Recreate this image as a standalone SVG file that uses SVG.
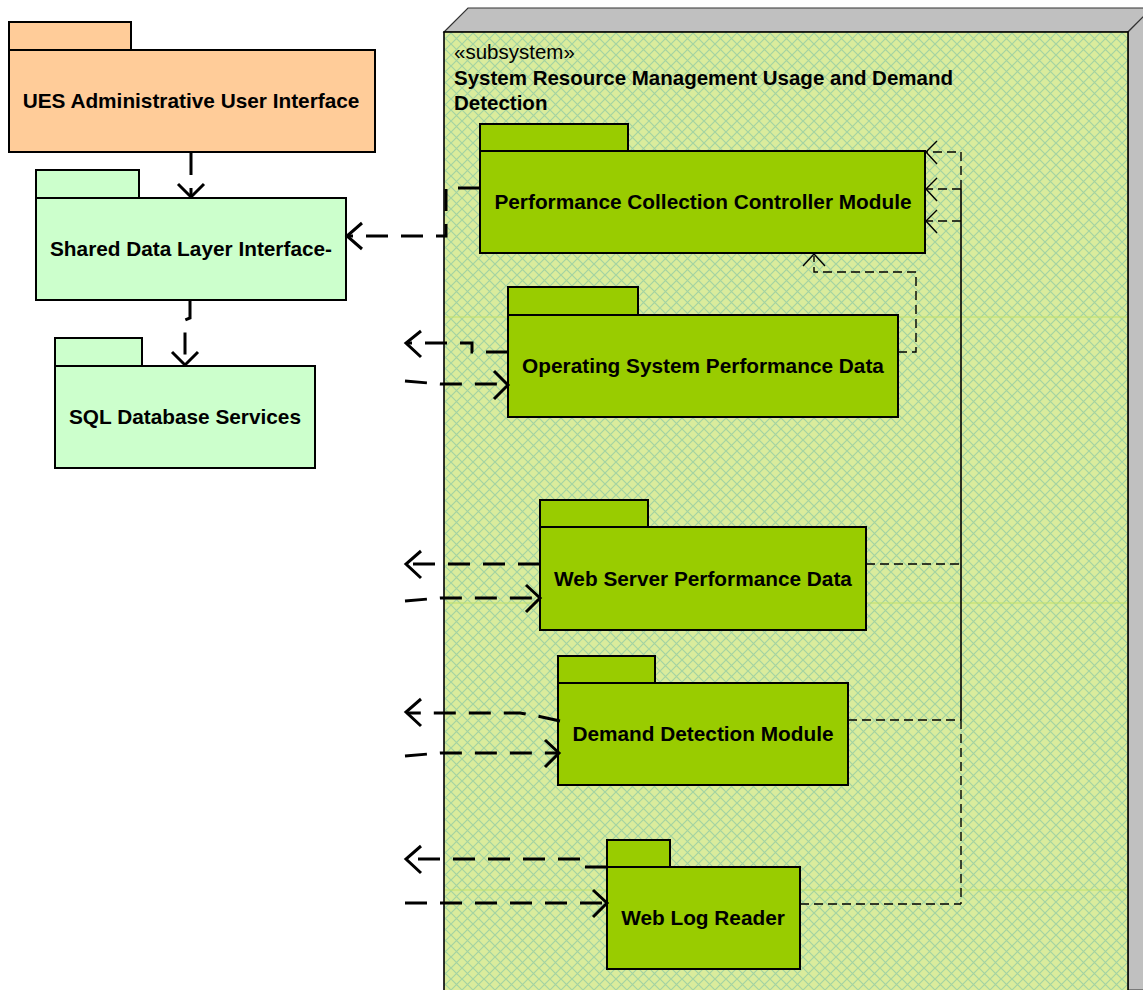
<svg xmlns="http://www.w3.org/2000/svg" width="1143" height="990" viewBox="0 0 1143 990">
  <style>
    .pkg { stroke: #000; stroke-width: 2; }
    .peach { fill: #FFCC99; }
    .mint { fill: #CCFFCC; }
    .lime { fill: #99CC00; }
    .lbl { font-family: "Liberation Sans", Arial, sans-serif; font-weight: bold; font-size: 20.8px; fill: #000; text-anchor: middle; }
    .hdr { font-family: "Liberation Sans", Arial, sans-serif; font-size: 20.5px; fill: #000; }
    .hdrb { font-weight: bold; }
    .dep { fill: none; stroke: #000; stroke-width: 3; stroke-dasharray: 22 13; }
    .dept { fill: none; stroke: #000; stroke-width: 1.4; stroke-dasharray: 9 5; }
    .solid { fill: none; stroke: #000; stroke-width: 1.6; }
    .head { fill: none; stroke: #000; stroke-width: 3; }
    .headt { fill: none; stroke: #000; stroke-width: 1.4; }
  </style>
  <defs>
    <pattern id="hatch" width="11" height="11" patternUnits="userSpaceOnUse">
      <rect width="11" height="11" fill="#DAEC9C"/>
      <path d="M0 0 L11 11 M11 0 L0 11" stroke="#A3D3A2" stroke-width="1.2"/>
    </pattern>
  </defs>

  <rect width="1143" height="990" fill="#fff"/>

  <!-- subsystem node (3D box) -->
  <g id="subsystem">
    <polygon points="444,32 468,8 1152,8 1128,32" fill="#C0C0C0" stroke="#333" stroke-width="1.2"/>
    <polygon points="1128,32 1152,8 1152,990 1128,990" fill="#C0C0C0" stroke="#333" stroke-width="1.2"/>
    <rect x="444" y="32" width="684" height="970" fill="url(#hatch)" stroke="#000" stroke-width="1.6"/>
    <path d="M445 317 H1127 M445 603 H1127 M445 890 H1127" stroke="#BFE06A" stroke-width="1.2" fill="none"/>
    <text class="hdr" x="454" y="59">«subsystem»</text>
    <text class="hdr hdrb" x="454" y="85">System Resource Management Usage and Demand</text>
    <text class="hdr hdrb" x="454" y="110">Detection</text>
  </g>

  <!-- packages outside the subsystem -->
  <g id="ues-admin-ui">
    <rect class="pkg peach" x="9" y="22" width="122" height="28"/>
    <rect class="pkg peach" x="9" y="50" width="366" height="102"/>
    <text class="lbl" x="191" y="108">UES Administrative User Interface</text>
  </g>
  <g id="shared-data-layer">
    <rect class="pkg mint" x="36" y="170" width="103" height="28"/>
    <rect class="pkg mint" x="36" y="198" width="310" height="102"/>
    <text class="lbl" x="191" y="256">Shared Data Layer Interface-</text>
  </g>
  <g id="sql-db">
    <rect class="pkg mint" x="55" y="338" width="87" height="28"/>
    <rect class="pkg mint" x="55" y="366" width="260" height="102"/>
    <text class="lbl" x="185" y="424">SQL Database Services</text>
  </g>

  <!-- packages inside the subsystem -->
  <g id="perf-collection">
    <rect class="pkg lime" x="480" y="124" width="148" height="27"/>
    <rect class="pkg lime" x="480" y="151" width="445" height="102"/>
    <text class="lbl" x="703" y="209">Performance Collection Controller Module</text>
  </g>
  <g id="os-perf">
    <rect class="pkg lime" x="508" y="287" width="130" height="28"/>
    <rect class="pkg lime" x="508" y="315" width="390" height="102"/>
    <text class="lbl" x="703" y="373">Operating System Performance Data</text>
  </g>
  <g id="web-server-perf">
    <rect class="pkg lime" x="540" y="500" width="108" height="27"/>
    <rect class="pkg lime" x="540" y="527" width="326" height="103"/>
    <text class="lbl" x="703" y="586">Web Server Performance Data</text>
  </g>
  <g id="demand-detection">
    <rect class="pkg lime" x="558" y="656" width="97" height="27"/>
    <rect class="pkg lime" x="558" y="683" width="290" height="102"/>
    <text class="lbl" x="703" y="741">Demand Detection Module</text>
  </g>
  <g id="web-log-reader">
    <rect class="pkg lime" x="607" y="840" width="63" height="27"/>
    <rect class="pkg lime" x="607" y="867" width="193" height="102"/>
    <text class="lbl" x="703" y="925">Web Log Reader</text>
  </g>

  <!-- dependencies -->
  <g id="connectors">
    <!-- UES UI -> shared data layer -->
    <path class="dep" d="M191 153 V196" stroke-dasharray="16 10"/>
    <path class="head" d="M178 184 L191 197 L204 184"/>
    <!-- shared data layer -> SQL -->
    <path class="dep" d="M190 301 V318 L185 320 V364" stroke-dasharray="16 10"/>
    <path class="head" d="M172 352 L185 365 L198 352"/>

    <!-- controller -> shared data layer -->
    <path class="dep" d="M480 188 H446 V236 H348"/>
    <path class="head" d="M362 223 L347 236 L362 249"/>

    <!-- OS data out / in -->
    <path class="dep" d="M508 352 H472 V343 H407"/>
    <path class="head" d="M421 331 L406 343 L421 357"/>
    <path class="dep" d="M405 381 L440 384 H507"/>
    <path class="head" d="M494 371 L508 385 L494 399"/>

    <!-- web server data out / in -->
    <path class="dep" d="M540 564 H407"/>
    <path class="head" d="M421 551 L406 564 L421 578"/>
    <path class="dep" d="M405 601 L440 598 H539"/>
    <path class="head" d="M526 585 L540 598 L526 612"/>

    <!-- demand detection out / in -->
    <path class="dep" d="M560 721 L537 716 L520 713 H407"/>
    <path class="head" d="M421 699 L406 712 L421 726"/>
    <path class="dep" d="M405 756 L440 753 H558"/>
    <path class="head" d="M545 740 L559 753 L545 767"/>

    <!-- web log reader out / in -->
    <path class="dep" d="M607 867 H584 V859 H407"/>
    <path class="head" d="M421 846 L406 859 L421 873"/>
    <path class="dep" d="M405 903 H606"/>
    <path class="head" d="M593 890 L607 903 L593 917"/>

    <!-- OS data -> controller -->
    <path class="dept" d="M898 352 H916 V272 H814 V256"/>
    <path class="headt" d="M803 266 L814 254 L825 266"/>

    <!-- bus on the right into the controller -->
    <path class="dept" d="M961 189 V152 H927"/>
    <path class="headt" d="M937 141 L926 152 L937 164"/>
    <path class="dept" d="M961 189 H927"/>
    <path class="headt" d="M937 178 L926 189 L937 201"/>
    <path class="dept" d="M961 221 H927"/>
    <path class="headt" d="M937 210 L926 221 L937 233"/>
    <path class="solid" d="M961 189 V720"/>
    <path class="dept" d="M961 720 V904"/>
    <path class="dept" d="M866 564 H961"/>
    <path class="dept" d="M848 720 H961"/>
    <path class="dept" d="M800 904 H961"/>
  </g>
</svg>
